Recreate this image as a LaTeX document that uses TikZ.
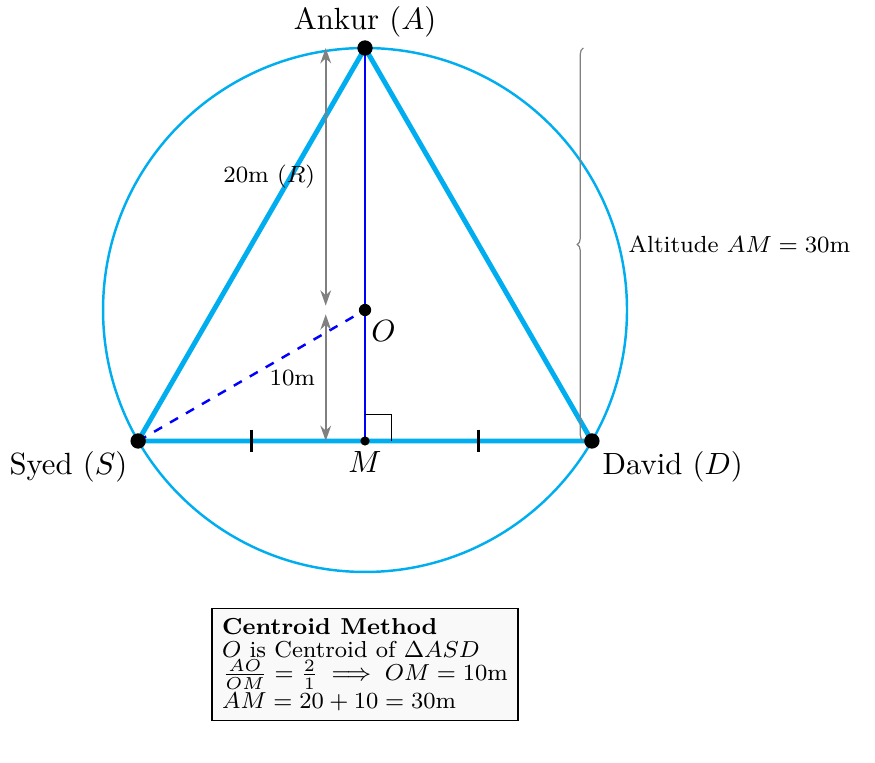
\documentclass[tikz,border=0pt]{standalone}
\usepackage{amsmath}
\usetikzlibrary{arrows.meta,decorations.pathreplacing,positioning}
\definecolor{ringcyan}{RGB}{0,174,239}
\begin{document}
\begin{tikzpicture}[
    dimline/.style={<->, >={Stealth[length=5pt, width=3.5pt]}, gray, semithick},
    dot/.style={circle, fill=black, inner sep=0pt, minimum size=#1},
    smalltext/.style={text=black, scale=0.95, font=\fontsize{8pt}{8.5pt}\selectfont},
]
    \useasboundingbox (-4.18, -5.18) rectangle (5.84, 3.55);
    \coordinate (O) at (0, 0);
    \coordinate (A) at (90:3);
    \coordinate (S) at (210:3);
    \coordinate (D) at (330:3);
    \coordinate (M) at (0, -1.5);
    % circumcircle and triangle
    \draw[ringcyan, thick] (O) circle (3);
    \draw[ringcyan, ultra thick] (A) -- (S) -- (D) -- cycle;
    \draw[blue, thick] (A) -- (M);
    \draw[blue, thick, dashed] (S) -- (O);
    \draw (0, -1.2) -- (0.3, -1.2) -- (0.3, -1.5);
    \foreach \x in {-1.3, 1.3}
        \draw[thick] (\x, -1.37) -- (\x, -1.63);
    % points
    \node[dot=5pt] (Adot) at (A) {};
    \node[dot=5pt] (Sdot) at (S) {};
    \node[dot=5pt] (Ddot) at (D) {};
    \node[dot=4pt] (Odot) at (O) {};
    \node[dot=3pt] (Mdot) at (M) {};
    \node[above] (Alab) at (A) {Ankur ($A$)};
    \node[below left] (Slab) at (S) {Syed ($S$)};
    \node[below right] (Dlab) at (D) {David ($D$)};
    \node[below] (Mlab) at (M) {$M$};
    \node[below right, xshift=-1.5pt] (Olab) at (O) {$O$};
    % measurements
    \draw[dimline] (-0.45, 3) -- (-0.45, 0.05) node[midway, left, smalltext] {20m ($R$)};
    \draw[dimline] (-0.45, -0.05) -- (-0.45, -1.5) node[midway, left, smalltext] {10m};
    \draw[gray, decorate, decoration={brace, amplitude=2pt}] (2.5, -1.5) -- (2.5, 3)
        node[midway, right=0.4cm, smalltext] {Altitude $AM = 30$m};
    \node[draw, fill=gray!5, align=left, inner sep=3.5pt, smalltext, scale=0.99,
        font=\fontsize{8pt}{8pt}\selectfont] (method) at (0, -4.06) {%
        \textbf{Centroid Method}\\
        $O$ is Centroid of $\Delta ASD$\\
        $\frac{AO}{OM} = \frac{2}{1} \implies OM = 10$m\\
        $AM = 20 + 10 = 30$m};
\end{tikzpicture}
\end{document}
